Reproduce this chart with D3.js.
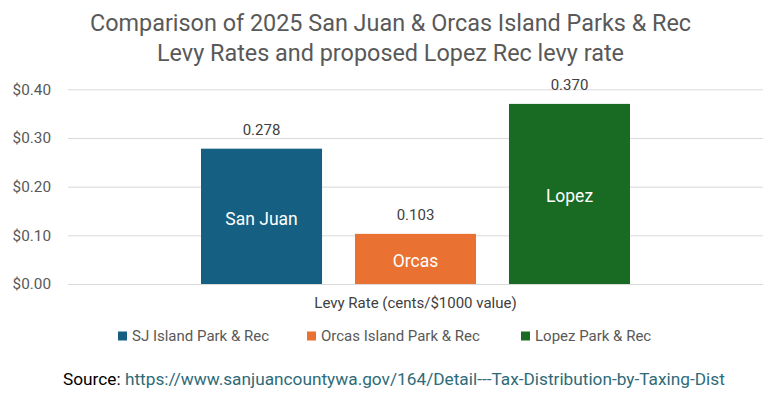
<!DOCTYPE html>
<html><head><meta charset="utf-8">
<script src="https://cdn.jsdelivr.net/npm/d3@7"></script>
<style>
body{margin:0;background:#fff;}
svg text{font-family:Roboto,"Noto Sans",sans-serif;}
</style></head>
<body><svg id="c" width="771" height="399"></svg>
<script>
const titleLines = ["Comparison of 2025 San Juan & Orcas Island Parks & Rec", "Levy Rates and proposed Lopez Rec levy rate"];
const category = "Levy Rate (cents/$1000 value)";
const series = ["SJ Island Park & Rec", "Orcas Island Park & Rec", "Lopez Park & Rec"];
const shortNames = ["San Juan", "Orcas", "Lopez"];
const values = [0.278, 0.103, 0.370];
const colors = ["#156082", "#E97132", "#196B24"];
const yTicks = [0, 0.1, 0.2, 0.3, 0.4];
const sourceLabel = "Source: ";
const sourceUrl = "https://www.sanjuancountywa.gov/164/Detail---Tax-Distribution-by-Taxing-Dist";

const svg = d3.select("#c");
const pLeft = 68, pRight = 763, pTop = 89.3, pBottom = 284;

// title
svg.selectAll("text.title").data(titleLines).join("text")
  .attr("class","title")
  .attr("x", 390.5).attr("y", (d,i)=> 30.5 + i*30.5)
  .attr("text-anchor","middle")
  .attr("font-size", 23.4).attr("fill","#595959")
  .text(d=>d);

const y = d3.scaleLinear().domain([0,0.4]).range([pBottom, pTop]);
const x0 = d3.scaleBand().domain([category]).range([pLeft, pRight]).paddingInner(0).paddingOuter(0.31);
const x1 = d3.scaleBand().domain(series).range([0, x0.bandwidth()]).paddingInner(0.214);

// grid
const yAxis = d3.axisLeft(y).tickValues(yTicks).tickSize(-(pRight-pLeft)).tickFormat(d=>"$"+d.toFixed(2));
const ga = svg.append("g").attr("transform",`translate(${pLeft},0)`).call(yAxis);
ga.select(".domain").remove();
ga.selectAll(".tick line").attr("stroke","#d9d9d9").attr("stroke-width",1);
ga.selectAll(".tick text").attr("x",-17).attr("fill","#595959").attr("font-size",15.3);

// bars
const g = svg.append("g").attr("transform",`translate(${x0(category)},0)`);
g.selectAll("rect").data(series).join("rect")
  .attr("x", d=>x1(d)).attr("width", x1.bandwidth())
  .attr("y", (d,i)=>y(values[i])).attr("height",(d,i)=>y(0)-y(values[i]))
  .attr("fill",(d,i)=>colors[i]);
g.selectAll("text.val").data(series).join("text").attr("class","val")
  .attr("x", d=>x1(d)+x1.bandwidth()/2).attr("y",(d,i)=>y(values[i])-13.5)
  .attr("text-anchor","middle").attr("font-size",15).attr("fill","#404040")
  .text((d,i)=>values[i].toFixed(3));
g.selectAll("text.inner").data(series).join("text").attr("class","inner")
  .attr("x", d=>x1(d)+x1.bandwidth()/2).attr("y",(d,i)=>(y(values[i])+y(0))/2 + 8.5)
  .attr("text-anchor","middle").attr("font-size",17.5).attr("fill","#ffffff")
  .text((d,i)=>shortNames[i]);

// category label
svg.append("text").attr("x",(pLeft+pRight)/2).attr("y",307.5).attr("text-anchor","middle")
  .attr("font-size",15).attr("fill","#404040").text(category);

// legend
const legX = [118, 307, 521];
const leg = svg.selectAll("g.leg").data(series).join("g").attr("class","leg")
  .attr("transform",(d,i)=>`translate(${legX[i]},336)`);
leg.append("rect").attr("x",0).attr("y",-4.5).attr("width",9).attr("height",9).attr("fill",(d,i)=>colors[i]);
leg.append("text").attr("x",14).attr("y",0).attr("dy","0.35em").attr("font-size",15).attr("fill","#595959").text(d=>d);

// source
const st = svg.append("text").attr("x",63).attr("y",385).attr("font-size",17.25);
st.append("tspan").attr("fill","#000").text(sourceLabel);
st.append("tspan").attr("fill","#2E6B78").text(sourceUrl);
</script></body></html>
